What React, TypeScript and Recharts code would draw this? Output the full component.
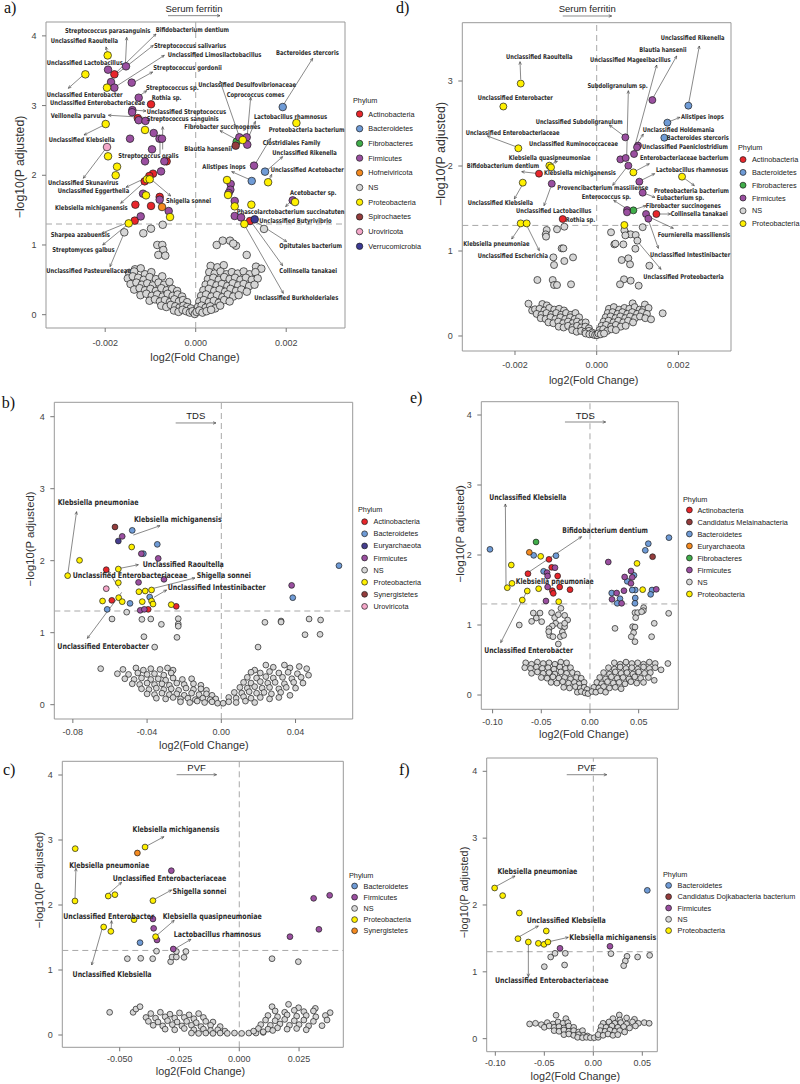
import React from 'react';
import { ScatterChart, Scatter, XAxis, YAxis, ReferenceLine, ReferenceArea, Legend, Label } from 'recharts';

const SANS = "'Liberation Sans', Arial, Helvetica, sans-serif";
const NARROW = "'Liberation Sans Narrow', 'Arial Narrow', 'DejaVu Sans Condensed', sans-serif";
const SERIF = "'Liberation Serif', 'Times New Roman', serif";

// ---------- phylum legends ----------
const PHYLA_A = [['Act', 'Actinobacteria'], ['Bac', 'Bacteroidetes'], ['Fib', 'Fibrobacteres'], ['Fir', 'Firmicutes'], ['Hof', 'Hofneiviricota'], ['NS', 'NS'], ['Pro', 'Proteobacteria'], ['Spi', 'Spirochaetes'], ['Uro', 'Uroviricota'], ['Ver', 'Verrucomicrobia']];
const PHYLA_D = [['Act', 'Actinobacteria'], ['Bac', 'Bacteroidetes'], ['Fib', 'Fibrobacteres'], ['Fir', 'Firmicutes'], ['NS', 'NS'], ['Pro', 'Proteobacteria']];
const PHYLA_B = [['Act', 'Actinobacteria'], ['Bac', 'Bacteroidetes'], ['Eur', 'Euryarchaeota'], ['Fir', 'Firmicutes'], ['NS', 'NS'], ['Pro', 'Proteobacteria'], ['Syn', 'Synergistetes'], ['Uro', 'Uroviricota']];
const PHYLA_E = [['Act', 'Actinobacteria'], ['Mel', 'Candidatus Melainabacteria'], ['Bac', 'Bacteroidetes'], ['Eur', 'Euryarchaeota'], ['Fib', 'Fibrobacteres'], ['Fir', 'Firmicutes'], ['NS', 'NS'], ['Pro', 'Proteobacteria']];
const PHYLA_C = [['Bac', 'Bacteroidetes'], ['Fir', 'Firmicutes'], ['NS', 'NS'], ['Pro', 'Proteobacteria'], ['Syn', 'Synergistetes']];
const PHYLA_F = [['Bac', 'Bacteroidetes'], ['Doj', 'Candidatus Dojkabacteria bacterium'], ['Fir', 'Firmicutes'], ['NS', 'NS'], ['Pro', 'Proteobacteria']];

// ---------- panel a (Serum ferritin), x values in units of 1e-3 ----------
const SIG_A = [
  [-1.945, 3.72, 'Pro'], [-2.438, 3.448, 'Pro'], [-1.937, 3.515, 'Fir'], [-1.797, 3.448, 'Act'], [-1.54, 3.563, 'Fir'],
  [-1.871, 3.338, 'Fir'], [-1.96, 3.257, 'Pro'], [-1.797, 3.257, 'Fir'], [-1.414, 3.329, 'Fir'], [-1.26, 3.113, 'Fir'],
  [-0.987, 3.018, 'Act'], [-1.4, 2.935, 'Fir'], [-1.405, 2.905, 'Fir'], [-1.28, 2.82, 'Act'], [-1.26, 2.79, 'Fir'],
  [-1.11, 2.78, 'Fir'], [-1.989, 2.735, 'Pro'], [-1.12, 2.65, 'Pro'], [-0.928, 2.606, 'Fir'], [-1.451, 2.525, 'Fir'],
  [-0.8, 2.525, 'Fir'], [-0.745, 2.525, 'Fir'], [-1.96, 2.405, 'Uro'], [-1.937, 2.272, 'Pro'], [-0.965, 2.372, 'Fir'],
  [-1.12, 2.2, 'Fir'], [-0.693, 2.2, 'Fir'], [-0.642, 2.2, 'Act'], [-0.766, 2.056, 'Fir'], [-1.738, 2.123, 'Pro'],
  [-1.768, 2.0, 'Pro'], [-0.943, 2.023, 'Act'], [-1.024, 1.99, 'Act'], [-1.127, 1.913, 'Act'], [-1.076, 1.942, 'Pro'],
  [-1.017, 1.942, 'Pro'], [-1.164, 1.736, 'Fir'], [-1.098, 1.712, 'Pro'], [-0.796, 1.69, 'Act'], [-0.796, 1.65, 'Fir'],
  [-1.333, 1.578, 'Act'], [-0.987, 1.56, 'Act'], [-0.744, 1.545, 'Hof'], [-0.597, 1.487, 'Fir'], [-0.567, 1.401, 'Pro'],
  [-1.215, 1.41, 'Fir'], [-1.348, 1.349, 'Act'], [-1.48, 1.31, 'Pro'],
  [1.923, 2.979, 'Bac'], [2.225, 2.75, 'Pro'], [0.964, 2.545, 'Fir'], [0.906, 2.482, 'Fib'], [0.884, 2.425, 'Spi'],
  [1.039, 2.506, 'Pro'], [1.127, 2.545, 'Fir'], [1.14, 2.439, 'Fir'], [1.289, 2.138, 'Fir'], [1.532, 2.052, 'Bac'],
  [1.6, 1.9, 'Pro'], [1.238, 1.918, 'Bac'], [0.692, 1.932, 'Pro'], [0.773, 1.875, 'Fir'], [0.766, 1.793, 'Fir'],
  [0.729, 1.746, 'Fir'], [0.715, 1.717, 'Pro'], [0.862, 1.631, 'Fir'], [0.862, 1.554, 'Pro'], [0.862, 1.416, 'Fir'],
  [1.002, 1.396, 'Fir'], [1.2, 1.344, 'Act'], [1.304, 1.368, 'Ver'], [1.075, 1.301, 'Pro'], [1.23, 1.578, 'Pro'],
  [2.144, 1.64, 'Fir'], [2.195, 1.616, 'Pro'],
];
const NS_A = [
  [-0.729, 1.29], [-0.988, 1.234], [-1.158, 1.168], [-1.578, 1.182], [-0.849, 1.0], [-0.738, 1.0], [-0.716, 0.928], [-0.826, 0.857],
  [-0.672, 0.847], [-1.341, 0.651], [-1.215, 0.665], [0.464, 1.0], [0.597, 1.062], [0.758, 1.062], [0.891, 0.99], [0.83, 1.02],
  [1.127, 0.857], [1.509, 1.23], [1.333, 0.689], [1.288, 0.545],
  [-1.47, 0.6], [-1.36, 0.62], [-1.12, 0.58], [-0.98, 0.61],
  [-1.5, 0.52], [-1.39, 0.55], [-1.27, 0.53], [-1.15, 0.5], [-1.02, 0.54], [-0.88, 0.51], [-0.74, 0.55],
  [-1.44, 0.44], [-1.31, 0.46], [-1.19, 0.43], [-1.07, 0.45], [-0.95, 0.42], [-0.82, 0.46], [-0.7, 0.43], [-0.58, 0.47],
  [-1.36, 0.36], [-1.24, 0.38], [-1.12, 0.35], [-1.0, 0.37], [-0.88, 0.34], [-0.76, 0.38], [-0.64, 0.35], [-0.52, 0.37], [-0.41, 0.34],
  [-1.22, 0.28], [-1.09, 0.3], [-0.97, 0.27], [-0.85, 0.29], [-0.73, 0.26], [-0.62, 0.3], [-0.51, 0.27], [-0.4, 0.29], [-0.3, 0.26],
  [-1.02, 0.2], [-0.9, 0.22], [-0.79, 0.19], [-0.68, 0.21], [-0.57, 0.18], [-0.47, 0.22], [-0.37, 0.19], [-0.28, 0.21], [-0.19, 0.18],
  [-0.76, 0.13], [-0.65, 0.11], [-0.55, 0.14], [-0.45, 0.12], [-0.36, 0.1], [-0.27, 0.13], [-0.19, 0.11], [-0.11, 0.09],
  [-0.48, 0.06], [-0.38, 0.04], [-0.29, 0.07], [-0.21, 0.05], [-0.13, 0.03], [-0.07, 0.05], [-0.02, 0.01],
  [0.33, 0.7], [0.48, 0.68], [0.62, 0.71], [1.45, 0.66],
  [0.3, 0.61], [0.42, 0.59], [0.55, 0.62], [0.68, 0.58], [0.8, 0.61], [0.93, 0.59], [1.06, 0.62], [1.19, 0.58], [1.32, 0.61],
  [0.27, 0.51], [0.39, 0.53], [0.51, 0.5], [0.63, 0.54], [0.75, 0.51], [0.87, 0.53], [0.99, 0.5], [1.11, 0.53], [1.24, 0.5], [1.37, 0.52],
  [0.22, 0.43], [0.34, 0.45], [0.46, 0.42], [0.58, 0.44], [0.7, 0.41], [0.82, 0.45], [0.94, 0.42], [1.06, 0.44], [1.18, 0.41], [1.3, 0.43],
  [0.17, 0.35], [0.29, 0.37], [0.41, 0.34], [0.53, 0.36], [0.65, 0.33], [0.77, 0.37], [0.89, 0.34], [1.01, 0.36], [1.13, 0.33],
  [0.12, 0.27], [0.23, 0.29], [0.35, 0.26], [0.47, 0.28], [0.59, 0.25], [0.71, 0.29], [0.83, 0.26], [0.95, 0.28],
  [0.08, 0.19], [0.18, 0.21], [0.29, 0.18], [0.4, 0.2], [0.51, 0.17], [0.63, 0.21], [0.75, 0.19],
  [0.05, 0.11], [0.13, 0.13], [0.22, 0.1], [0.32, 0.12], [0.43, 0.09], [0.54, 0.13],
  [0.02, 0.04], [0.08, 0.06], [0.15, 0.03], [0.24, 0.05], [0.34, 0.07],
];
const LABELS_A = [
  ['Streptococcus parasanguinis', -2.888, 4.075], ['Bifidobacterium dentium', -0.885, 4.094], ['Unclassified Raoultella', -3.204, 3.931],
  ['Streptococcus salivarius', -0.922, 3.865], ['Unclassified Limosilactobacillus', -0.619, 3.735], ['Unclassified Lactobacillus', -3.293, 3.616],
  ['Streptococcus gordonii', -0.936, 3.545], ['Unclassified Enterobacter', -3.293, 3.157], ['Streptococcus sp.', -1.098, 3.262],
  ['Unclassified Enterobacteriaceae', -3.219, 3.047], ['Rothia sp.', -0.973, 3.114], ['Unclassified Streptococcus', -1.084, 2.923],
  ['Veillonella parvula', -3.204, 2.86], ['Streptococcus sanguinis', -1.084, 2.822], ['Unclassified Klebsiella', -3.249, 2.521],
  ['Streptococcus oralis', -1.71, 2.291], ['Unclassified Skunavirus', -3.263, 1.904], ['Unclassified Eggerthella', -3.05, 1.779],
  ['Shigella sonnei', -0.656, 1.636], ['Klebsiella michiganensis', -3.109, 1.545], ['Sharpea azabuensis', -3.204, 1.153],
  ['Streptomyces galbus', -3.168, 0.938], ['Unclassified Pasteurellaceae', -3.3, 0.632], ['Bacteroides stercoris', 1.775, 3.764],
  ['Unclassified Desulfovibrionaceae', 0.058, 3.31], ['Coprococcus comes', 0.684, 3.161], ['Lactobacillus rhamnosus', 1.288, 2.85],
  ['Proteobacteria bacterium', 1.613, 2.659], ['Fibrobacter succinogenes', -0.251, 2.707], ['Blautia hansenii', -0.251, 2.387],
  ['Clostridiales Family', 1.48, 2.468], ['Unclassified Rikenella', 1.694, 2.324], ['Alistipes inops', 0.147, 2.124],
  ['Unclassified Acetobacter', 1.656, 2.085], ['Acetobacter sp.', 2.084, 1.755], ['Phascolarctobacterium succinatuten', 0.905, 1.482],
  ['Unclassified Butyrivibrio', 1.406, 1.348], ['Opitutales bacterium', 1.848, 0.989], ['Collinsella tanakaei', 1.848, 0.636],
  ['Unclassified Burkholderiales', 1.295, 0.244],
];
const ARROWS_A = [
  [-1.555, 3.568, -1.525, 3.979], [-1.798, 3.448, -0.877, 4.027], [-1.783, 3.434, -0.936, 3.864], [-1.724, 3.29, -0.693, 3.721],
  [-1.378, 3.329, -0.951, 3.482], [-1.952, 3.76, -1.982, 3.842], [-2.483, 3.439, -2.815, 3.248], [-1.246, 3.137, -1.083, 3.214],
  [-1.378, 2.936, -1.098, 2.922], [-1.157, 2.832, -1.93, 2.861], [-0.789, 2.303, -0.789, 2.553], [-0.73, 2.37, -0.73, 2.697],
  [-2.026, 2.721, -2.468, 2.578], [-1.982, 2.387, -2.483, 1.957], [-1.12, 1.957, -1.54, 1.828], [-1.083, 1.933, -1.658, 1.598],
  [-0.995, 1.947, -0.553, 1.703], [-1.503, 1.321, -2.078, 1.168], [-1.489, 1.302, -2.055, 1.0], [-1.584, 1.167, -1.894, 0.689],
  [1.937, 3.01, 2.585, 3.678], [0.964, 2.554, 0.537, 3.353], [1.141, 2.579, 1.215, 3.118], [1.141, 2.506, 1.32, 2.774],
  [0.92, 2.506, 0.537, 2.64], [1.31, 2.157, 1.656, 2.53], [1.568, 2.066, 1.922, 2.267], [1.613, 1.918, 1.679, 2.013],
  [1.215, 1.932, 0.795, 2.052], [2.128, 1.646, 1.988, 1.55], [1.289, 1.349, 2.01, 1.048], [1.237, 1.32, 1.922, 0.703],
  [1.09, 1.272, 1.937, 0.306],
];

// ---------- panel d (Serum ferritin), x values in units of 1e-3 ----------
const SIG_D = [
  [-1.86, 2.97, 'Pro'], [-2.285, 2.7, 'Pro'], [-1.918, 2.208, 'Pro'], [-1.159, 2.004, 'Pro'], [-1.118, 1.984, 'Pro'],
  [-1.412, 1.91, 'Act'], [-1.81, 1.804, 'Pro'], [-1.1, 1.792, 'Fir'], [-0.832, 1.376, 'Act'], [-1.86, 1.325, 'Pro'],
  [-1.714, 1.325, 'Pro'],
  [1.363, 2.776, 'Fir'], [2.244, 2.71, 'Bac'], [1.73, 2.51, 'Bac'], [1.656, 2.333, 'Bac'], [0.702, 2.337, 'Fir'],
  [1.012, 2.24, 'Fir'], [0.987, 2.22, 'Fir'], [0.914, 2.141, 'Fir'], [0.579, 2.078, 'Fir'], [0.71, 2.094, 'Fir'],
  [0.775, 2.004, 'Fir'], [0.898, 1.925, 'Pro'], [2.089, 1.875, 'Pro'], [1.044, 1.816, 'Fir'], [1.126, 1.686, 'Fir'],
  [0.743, 1.482, 'Fir'], [0.743, 1.455, 'Fir'], [0.898, 1.478, 'Fib'], [1.208, 1.435, 'Fir'], [1.265, 1.38, 'Fir'],
  [1.461, 1.435, 'Act'], [0.677, 1.306, 'Pro'],
];
const NS_D = [
  [-1.224, 1.247], [-1.248, 1.196], [-1.24, 1.169], [-0.792, 1.286], [-0.971, 1.255], [-0.857, 1.031], [-0.816, 1.031], [-1.061, 0.925],
  [-0.579, 0.925], [-0.792, 0.882], [-1.044, 0.835], [-1.452, 0.659], [-1.077, 0.659], [-1.044, 0.6], [-0.971, 0.6], [-0.628, 0.608],
  [0.351, 1.22], [0.432, 1.078], [0.653, 1.078], [0.734, 1.196], [0.832, 1.196], [0.955, 1.188], [1.126, 1.28], [0.996, 1.122],
  [0.677, 1.243], [0.702, 1.184], [0.947, 1.027], [0.457, 1.086], [0.612, 0.894], [0.775, 0.914], [0.816, 0.843], [1.289, 0.827],
  [0.669, 0.667], [0.571, 0.608], [0.832, 0.651], [1.028, 0.592],
  [-1.67, 0.38], [-1.33, 0.376], [-1.22, 0.36],
  [-1.58, 0.3], [-1.51, 0.314], [-1.4, 0.32], [-1.28, 0.3], [-1.16, 0.33], [-1.04, 0.31], [-0.92, 0.32], [-0.8, 0.3],
  [-1.47, 0.26], [-1.35, 0.25], [-1.23, 0.27], [-1.11, 0.25], [-0.99, 0.27], [-0.87, 0.25], [-0.75, 0.27], [-0.63, 0.25], [-0.52, 0.27],
  [-1.37, 0.21], [-1.25, 0.2], [-1.13, 0.22], [-1.01, 0.2], [-0.89, 0.22], [-0.77, 0.2], [-0.65, 0.22], [-0.54, 0.2], [-0.43, 0.22],
  [-1.18, 0.16], [-1.06, 0.15], [-0.94, 0.17], [-0.82, 0.15], [-0.7, 0.17], [-0.59, 0.15], [-0.48, 0.17], [-0.37, 0.15], [-0.27, 0.16],
  [-0.93, 0.11], [-0.81, 0.1], [-0.7, 0.12], [-0.59, 0.1], [-0.48, 0.12], [-0.38, 0.1], [-0.28, 0.11], [-0.19, 0.09],
  [-0.6, 0.07], [-0.49, 0.05], [-0.38, 0.06], [-0.28, 0.05], [-0.19, 0.06], [-0.11, 0.04],
  [-0.27, 0.03], [-0.18, 0.02], [-0.1, 0.02], [-0.04, 0.01], [0.01, 0.01],
  [0.88, 0.384], [1.18, 0.37],
  [0.3, 0.32], [0.42, 0.34], [0.55, 0.31], [0.68, 0.33], [0.8, 0.32], [0.93, 0.34], [1.05, 0.31], [1.14, 0.306], [1.27, 0.33],
  [0.27, 0.27], [0.39, 0.28], [0.51, 0.26], [0.63, 0.28], [0.75, 0.26], [0.87, 0.28], [0.99, 0.26], [1.11, 0.28], [1.23, 0.26], [1.616, 0.267],
  [0.22, 0.22], [0.34, 0.23], [0.46, 0.21], [0.58, 0.23], [0.7, 0.21], [0.82, 0.23], [0.94, 0.21], [1.06, 0.23], [1.19, 0.21],
  [0.17, 0.17], [0.29, 0.18], [0.41, 0.16], [0.53, 0.18], [0.65, 0.16], [0.77, 0.18], [0.89, 0.16], [1.33, 0.196],
  [0.12, 0.12], [0.23, 0.13], [0.35, 0.11], [0.47, 0.13], [0.59, 0.11], [0.71, 0.12],
  [0.07, 0.07], [0.16, 0.08], [0.26, 0.06], [0.36, 0.08], [0.47, 0.07],
  [0.04, 0.03], [0.1, 0.02], [0.18, 0.03],
];
const LABELS_D = [
  ['Unclassified Rikenella', 1.567, 3.514], ['Blautia hansenii', 1.044, 3.376], ['Unclassified Raoultella', -2.219, 3.294],
  ['Unclassified Mageeibacillus', -0.163, 3.259], ['Subdoligranulum sp.', -0.228, 2.945], ['Unclassified Enterobacter', -2.913, 2.808],
  ['Alistipes inops', 2.064, 2.588], ['Unclassified Subdoligranulum', -1.493, 2.525], ['Unclassified Holdemania', 1.126, 2.431],
  ['Unclassified Enterobacteriaceae', -3.207, 2.4], ['Bacteroides stercoris', 1.714, 2.333], ['Unclassified Ruminococcaceae', -1.656, 2.263],
  ['Unclassified Paeniclostridium', 1.11, 2.231], ['Klebsiella quasipneumoniae', -2.154, 2.098], ['Enterobacteriaceae bacterium', 1.061, 2.098],
  ['Bifidobacterium dentium', -3.182, 2.004], ['Lactobacillus rhamnosus', 1.452, 1.957], ['Klebsiella michiganensis', -1.289, 1.922],
  ['Provencibacterium massiliense', -0.963, 1.749], ['Proteobacteria bacterium', 1.404, 1.718], ['Enterococcus sp.', -0.367, 1.647],
  ['Eubacterium sp.', 1.469, 1.631], ['Unclassified Klebsiella', -3.158, 1.576], ['Fibrobacter succinogenes', 1.2, 1.533],
  ['Unclassified Lactobacillus', -1.975, 1.475], ['Collinsella tanakaei', 1.811, 1.439], ['Rothia sp.', -0.759, 1.369],
  ['Fournierella massiliensis', 1.493, 1.196], ['Klebsiella pneumoniae', -3.264, 1.094], ['Unclassified Intestinibacter', 1.306, 0.957],
  ['Unclassified Escherichia', -2.913, 0.949], ['Unclassified Proteobacteria', 1.142, 0.706],
];
const ARROWS_D = [
  [-1.86, 3.02, -1.877, 3.227], [-1.975, 2.227, -2.676, 2.353], [-1.077, 2.031, -0.963, 2.055], [-1.485, 1.914, -1.836, 1.933],
  [-1.836, 1.765, -2.016, 1.612], [-1.126, 1.749, -1.289, 1.533], [-1.877, 1.286, -2.081, 1.141], [-1.697, 1.286, -1.404, 1.004],
  [0.734, 2.11, 0.775, 2.886], [0.669, 2.353, 0.31, 2.482], [0.947, 2.259, 1.469, 3.188], [1.387, 2.808, 1.958, 3.294],
  [2.252, 2.737, 2.513, 3.412], [1.779, 2.522, 2.04, 2.573], [0.996, 2.267, 1.142, 2.376], [0.759, 2.0, 0.392, 1.773],
  [0.906, 1.929, 1.289, 2.027], [1.044, 1.82, 1.42, 1.91], [2.089, 1.875, 2.391, 1.769], [1.126, 1.686, 1.428, 1.631],
  [0.759, 1.49, 0.416, 1.596], [0.938, 1.49, 1.208, 1.533], [1.51, 1.435, 1.811, 1.435], [1.265, 1.404, 1.877, 1.267],
  [1.265, 1.365, 1.51, 1.031], [0.694, 1.286, 1.575, 0.784],
];

// ---------- panel b (TDS) ----------
const SIG_B = [
  [-0.0573, 2.468, 'Syn'], [-0.048, 2.421, 'Bac'], [-0.0534, 2.338, 'Fir'], [-0.0555, 2.273, 'Eur'], [-0.0483, 2.19, 'Pro'],
  [-0.0345, 2.227, 'Bac'], [-0.0431, 2.097, 'Fir'], [-0.042, 2.097, 'Bac'], [-0.034, 2.032, 'Fir'], [-0.0764, 2.005, 'Pro'],
  [-0.062, 1.875, 'Act'], [-0.0555, 1.884, 'Pro'], [-0.0828, 1.792, 'Pro'], [-0.0446, 1.699, 'Fir'], [-0.0555, 1.694, 'Pro'],
  [-0.0309, 1.741, 'Fir'], [-0.062, 1.611, 'Uro'], [-0.0444, 1.569, 'Pro'], [-0.041, 1.579, 'Pro'], [-0.0376, 1.593, 'Pro'],
  [-0.0386, 1.495, 'Bac'], [-0.0553, 1.486, 'Pro'], [-0.064, 1.44, 'Pro'], [-0.059, 1.449, 'Act'], [-0.0534, 1.431, 'Pro'],
  [-0.0492, 1.407, 'Bac'], [-0.0426, 1.431, 'Pro'], [-0.0376, 1.44, 'Pro'], [-0.0368, 1.398, 'Pro'], [-0.0615, 1.324, 'Bac'],
  [-0.0437, 1.31, 'Fir'], [-0.0415, 1.324, 'Fir'], [-0.0394, 1.324, 'Act'], [-0.027, 1.389, 'Pro'], [-0.0243, 1.366, 'Act'],
  [0.0634, 1.931, 'Bac'], [0.0379, 1.657, 'Fir'], [0.0385, 1.486, 'Bac'],
];
const NS_B = [
  [-0.0589, 1.19], [-0.051, 1.285], [-0.0428, 1.185], [-0.038, 1.19], [-0.0323, 1.116], [-0.0232, 1.194], [-0.0232, 1.12], [-0.0232, 1.09],
  [-0.0417, 0.944], [-0.0239, 0.935], [-0.0359, 0.8], [0.0235, 1.144], [0.0322, 1.162], [0.0322, 1.148], [0.0473, 1.19], [0.0535, 1.176],
  [0.0451, 0.972], [0.0532, 0.977], [0.0198, 0.8],
  [-0.065, 0.5], [-0.053, 0.49], [-0.046, 0.51], [-0.042, 0.48], [-0.038, 0.5], [-0.033, 0.49], [-0.029, 0.51], [-0.026, 0.48],
  [-0.056, 0.43], [-0.05, 0.42], [-0.045, 0.44], [-0.04, 0.42], [-0.036, 0.43], [-0.031, 0.41], [-0.027, 0.44],
  [-0.052, 0.36], [-0.047, 0.35], [-0.043, 0.37], [-0.038, 0.35], [-0.034, 0.36], [-0.03, 0.34], [-0.026, 0.37], [-0.021, 0.35], [-0.016, 0.36],
  [-0.048, 0.29], [-0.044, 0.28], [-0.04, 0.3], [-0.036, 0.28], [-0.032, 0.29], [-0.028, 0.27], [-0.024, 0.3], [-0.02, 0.28], [-0.015, 0.29], [-0.011, 0.27],
  [-0.043, 0.22], [-0.039, 0.21], [-0.035, 0.23], [-0.031, 0.21], [-0.027, 0.22], [-0.023, 0.2], [-0.019, 0.23], [-0.015, 0.21], [-0.011, 0.22], [-0.008, 0.2],
  [-0.04, 0.15], [-0.036, 0.14], [-0.032, 0.16], [-0.028, 0.14], [-0.024, 0.15], [-0.02, 0.13], [-0.016, 0.16], [-0.012, 0.14], [-0.008, 0.15], [-0.005, 0.13],
  [-0.035, 0.09], [-0.03, 0.08], [-0.026, 0.1], [-0.022, 0.08], [-0.018, 0.09], [-0.014, 0.07], [-0.01, 0.09], [-0.006, 0.07], [-0.003, 0.08],
  [-0.022, 0.04], [-0.017, 0.03], [-0.013, 0.05], [-0.009, 0.03], [-0.005, 0.04], [-0.002, 0.02], [0.001, 0.02],
  [0.018, 0.48], [0.024, 0.55], [0.028, 0.52], [0.034, 0.55], [0.037, 0.51], [0.042, 0.53], [0.046, 0.5],
  [0.016, 0.45], [0.021, 0.44], [0.026, 0.46], [0.031, 0.44], [0.036, 0.45], [0.041, 0.43], [0.047, 0.41],
  [0.014, 0.38], [0.019, 0.37], [0.024, 0.39], [0.028, 0.37], [0.033, 0.38], [0.038, 0.36], [0.043, 0.38],
  [0.012, 0.31], [0.016, 0.3], [0.021, 0.32], [0.025, 0.3], [0.029, 0.31], [0.034, 0.29], [0.039, 0.31], [0.044, 0.3],
  [0.01, 0.24], [0.014, 0.23], [0.018, 0.25], [0.022, 0.23], [0.026, 0.24], [0.031, 0.22], [0.035, 0.24], [0.04, 0.23],
  [0.007, 0.17], [0.011, 0.16], [0.015, 0.18], [0.019, 0.16], [0.023, 0.17], [0.027, 0.15], [0.032, 0.17], [0.037, 0.13],
  [0.004, 0.1], [0.008, 0.09], [0.012, 0.11], [0.016, 0.09], [0.021, 0.1], [0.026, 0.08], [0.031, 0.1],
  [0.004, 0.04], [0.008, 0.03], [0.013, 0.05], [0.018, 0.03],
];
const LABELS_B = [
  ['Klebsiella pneumoniae', -0.0882, 2.815], ['Klebsiella michiganensis', -0.0471, 2.579], ['Unclassified Raoultella', -0.0424, 1.954],
  ['Unclassified Enterobacteriaceae', -0.0801, 1.801], ['Shigella sonnei', -0.0133, 1.801], ['Unclassified Intestinibacter', -0.0289, 1.635],
  ['Unclassified Enterobacter', -0.0884, 0.815],
];
const ARROWS_B = [
  [-0.0828, 1.801, -0.078, 2.681], [-0.0474, 2.356, -0.033, 2.486], [-0.0546, 1.894, -0.0447, 1.944], [-0.0551, 1.616, -0.0609, 1.856],
  [-0.0366, 1.616, -0.0142, 1.76], [-0.0363, 1.491, -0.0295, 1.593], [-0.0537, 1.56, -0.0722, 0.921],
];

// ---------- panel e (TDS) ----------
const SIG_E = [
  [-0.1027, 2.081, 'Bac'], [-0.0554, 2.186, 'Fib'], [-0.0623, 2.038, 'Eur'], [-0.0578, 1.995, 'Bac'], [-0.0506, 1.981, 'Pro'],
  [-0.0349, 1.99, 'Bac'], [-0.0421, 1.938, 'Act'], [-0.0808, 1.857, 'Pro'], [-0.0393, 1.824, 'Act'], [-0.0359, 1.819, 'Fir'],
  [-0.0637, 1.733, 'Act'], [-0.0476, 1.767, 'Bac'], [-0.0441, 1.748, 'Fir'], [-0.0435, 1.7, 'Fir'], [-0.0332, 1.7, 'Act'],
  [-0.0849, 1.533, 'Pro'], [-0.0801, 1.595, 'Pro'], [-0.0644, 1.486, 'Pro'], [-0.0527, 1.519, 'Pro'], [-0.0435, 1.543, 'Fir'],
  [-0.0387, 1.49, 'Act'], [-0.0377, 1.452, 'Act'], [-0.0311, 1.543, 'Act'], [-0.0205, 1.505, 'Act'], [-0.0695, 1.357, 'Pro'],
  [-0.0452, 1.343, 'Fir'], [-0.0321, 1.333, 'Pro'],
  [0.0811, 2.248, 'Bac'], [0.0599, 2.162, 'Bac'], [0.0568, 2.067, 'Bac'], [0.0643, 1.976, 'Mel'], [0.0188, 1.9, 'Fir'],
  [0.0483, 1.88, 'Pro'], [0.0421, 1.771, 'Fir'], [0.0356, 1.686, 'Fir'], [0.0434, 1.681, 'Fir'], [0.0383, 1.624, 'Bac'],
  [0.0452, 1.71, 'Bac'], [0.0421, 1.595, 'Fir'], [0.0541, 1.505, 'Pro'], [0.0681, 1.51, 'Fir'], [0.0637, 1.5, 'Bac'],
  [0.0623, 1.438, 'Bac'], [0.0349, 1.49, 'Fir'], [0.0465, 1.5, 'Bac'], [0.0434, 1.5, 'Bac'], [0.0223, 1.457, 'Bac'],
  [0.0274, 1.457, 'Fir'], [0.0226, 1.367, 'Fir'], [0.0308, 1.376, 'Bac'], [0.0325, 1.31, 'Fir'], [0.028, 1.31, 'Bac'],
  [0.0465, 1.386, 'Bac'], [0.0462, 1.31, 'Bac'],
];
const NS_E = [
  [-0.0582, 1.171], [-0.0513, 1.171], [-0.0551, 1.1], [-0.0599, 1.052], [-0.0496, 1.048], [-0.0726, 1.0], [-0.0394, 1.176], [-0.0363, 1.105],
  [-0.0352, 1.024], [-0.0387, 0.986], [-0.0421, 0.948], [-0.0414, 0.852], [-0.038, 0.833], [-0.0305, 0.99], [-0.026, 0.976], [-0.026, 1.138],
  [-0.0229, 1.071], [-0.0284, 0.9], [-0.0305, 0.833], [-0.027, 0.852], [-0.0325, 0.729], [-0.0424, 0.905], [-0.0325, 1.148], [-0.0298, 1.238],
  [-0.026, 1.024], [0.0462, 1.176], [0.0489, 1.176], [0.0551, 1.248], [0.0548, 1.205], [0.0469, 1.105], [0.0438, 0.976], [0.0462, 0.971],
  [0.0448, 0.89], [0.0462, 0.762], [0.0424, 0.833], [0.066, 1.024], [0.0633, 0.833], [0.0808, 1.167], [0.0257, 0.952], [0.053, 1.19],
  [-0.066, 0.46], [-0.06, 0.44], [-0.054, 0.47], [-0.048, 0.45], [-0.042, 0.46], [-0.036, 0.44], [-0.03, 0.47], [-0.024, 0.46],
  [-0.067, 0.39], [-0.061, 0.38], [-0.055, 0.4], [-0.049, 0.38], [-0.043, 0.39], [-0.037, 0.37], [-0.031, 0.4], [-0.025, 0.38], [-0.02, 0.39],
  [-0.06, 0.31], [-0.054, 0.33], [-0.048, 0.31], [-0.042, 0.32], [-0.036, 0.3], [-0.03, 0.33], [-0.024, 0.31], [-0.018, 0.32], [-0.013, 0.3],
  [-0.05, 0.25], [-0.044, 0.24], [-0.038, 0.26], [-0.032, 0.24], [-0.026, 0.25], [-0.02, 0.23], [-0.014, 0.25], [-0.009, 0.24],
  [-0.04, 0.18], [-0.034, 0.17], [-0.028, 0.19], [-0.022, 0.17], [-0.016, 0.18], [-0.011, 0.16], [-0.006, 0.18],
  [-0.027, 0.11], [-0.021, 0.1], [-0.015, 0.12], [-0.01, 0.1], [-0.006, 0.11], [-0.003, 0.08],
  [-0.013, 0.04], [-0.009, 0.05], [-0.005, 0.03], [-0.002, 0.02],
  [0.025, 0.46], [0.031, 0.44], [0.037, 0.47], [0.043, 0.45], [0.049, 0.46], [0.055, 0.44], [0.061, 0.47], [0.067, 0.45], [0.08, 0.45],
  [0.019, 0.39], [0.025, 0.37], [0.031, 0.4], [0.037, 0.38], [0.043, 0.39], [0.049, 0.37], [0.055, 0.4], [0.061, 0.38], [0.067, 0.39], [0.073, 0.36],
  [0.014, 0.32], [0.02, 0.3], [0.026, 0.33], [0.032, 0.31], [0.038, 0.32], [0.044, 0.3], [0.05, 0.33], [0.056, 0.31], [0.062, 0.32],
  [0.01, 0.25], [0.016, 0.23], [0.022, 0.26], [0.028, 0.24], [0.034, 0.25], [0.04, 0.23], [0.046, 0.26], [0.052, 0.24], [0.06, 0.25], [0.066, 0.21],
  [0.007, 0.18], [0.012, 0.16], [0.018, 0.19], [0.024, 0.17], [0.03, 0.18], [0.036, 0.16], [0.042, 0.19], [0.048, 0.17], [0.055, 0.18],
  [0.004, 0.11], [0.009, 0.1], [0.014, 0.12], [0.02, 0.1], [0.026, 0.11], [0.032, 0.09],
  [0.002, 0.05], [0.006, 0.04], [0.011, 0.06], [0.016, 0.04],
];
const LABELS_E = [
  ['Unclassified Klebsiella', -0.1034, 2.824], ['Bifidobacterium dentium', -0.0284, 2.357], ['Klebsiella pneumoniae', -0.0763, 1.624],
  ['Unclassified Enterobacter', -0.1085, 0.643],
];
const ARROWS_E = [[-0.0862, 1.548, -0.0869, 2.729], [-0.0637, 1.748, -0.0086, 2.262], [-0.065, 1.476, -0.0917, 0.748]];

// ---------- panel c (PVF) ----------
const SIG_C = [
  [-0.0686, 2.867, 'Pro'], [-0.0426, 2.8, 'Syn'], [-0.0394, 2.892, 'Pro'], [-0.0284, 2.528, 'Fir'], [-0.0687, 2.062, 'Pro'],
  [-0.0548, 2.138, 'Pro'], [-0.052, 2.159, 'Pro'], [-0.0361, 2.067, 'Pro'], [-0.044, 1.774, 'Pro'], [-0.0361, 1.785, 'Fir'],
  [-0.0567, 1.662, 'Pro'], [-0.0537, 1.595, 'Pro'], [-0.0358, 1.641, 'Fir'], [-0.035, 1.513, 'Pro'], [-0.0344, 1.462, 'Fir'],
  [-0.0415, 1.421, 'Bac'], [-0.0276, 1.323, 'Fir'], [0.0311, 2.103, 'Fir'], [0.0378, 2.149, 'Fir'], [0.0333, 1.626, 'Fir'],
  [0.0212, 1.513, 'Fir'],
];
const NS_C = [
  [-0.0468, 1.174], [-0.0412, 1.18], [-0.0362, 1.174], [-0.0346, 1.29], [-0.0287, 1.128], [-0.0281, 1.2], [-0.0263, 1.2], [-0.0263, 1.285],
  [-0.0231, 1.195], [-0.0223, 1.285], [0.0137, 1.174], [0.0247, 1.128],
  [-0.0542, 0.349], [-0.0444, 0.349], [-0.0432, 0.4], [-0.0415, 0.436],
  [-0.037, 0.33], [-0.033, 0.35], [-0.029, 0.32], [-0.025, 0.34], [-0.021, 0.31], [-0.017, 0.33],
  [-0.039, 0.27], [-0.035, 0.26], [-0.031, 0.28], [-0.027, 0.26], [-0.023, 0.27], [-0.019, 0.25], [-0.015, 0.27],
  [-0.038, 0.21], [-0.034, 0.2], [-0.03, 0.22], [-0.026, 0.2], [-0.022, 0.21], [-0.018, 0.19], [-0.014, 0.21], [-0.011, 0.2],
  [-0.036, 0.15], [-0.032, 0.14], [-0.028, 0.16], [-0.024, 0.14], [-0.02, 0.15], [-0.016, 0.13], [-0.012, 0.15], [-0.008, 0.13],
  [-0.031, 0.09], [-0.027, 0.08], [-0.023, 0.1], [-0.019, 0.08], [-0.015, 0.09], [-0.012, 0.07], [-0.009, 0.08], [-0.006, 0.06],
  [-0.02, 0.03], [-0.017, 0.025], [-0.014, 0.03], [-0.011, 0.025], [-0.008, 0.03], [-0.005, 0.025], [-0.002, 0.03], [0.001, 0.025],
  [0.004, 0.03], [0.007, 0.03], [0.01, 0.04],
  [0.0137, 0.436], [0.0206, 0.472], [0.0248, 0.42], [0.0318, 0.41],
  [0.015, 0.37], [0.019, 0.35], [0.023, 0.38], [0.027, 0.36], [0.031, 0.37], [0.038, 0.344],
  [0.012, 0.3], [0.016, 0.28], [0.02, 0.31], [0.024, 0.29], [0.028, 0.3], [0.032, 0.28], [0.036, 0.3],
  [0.011, 0.23], [0.015, 0.22], [0.019, 0.24], [0.023, 0.22], [0.027, 0.23], [0.031, 0.21], [0.0367, 0.231],
  [0.009, 0.16], [0.013, 0.15], [0.017, 0.17], [0.021, 0.15], [0.025, 0.16], [0.029, 0.14], [0.0346, 0.144],
  [0.008, 0.1], [0.012, 0.09], [0.016, 0.11], [0.02, 0.09], [0.024, 0.1], [0.028, 0.08],
  [0.006, 0.06], [0.01, 0.05], [0.014, 0.07],
];
const LABELS_C = [
  ['Klebsiella michiganensis', -0.0446, 3.169], ['Klebsiella pneumoniae', -0.0711, 2.615], ['Unclassified Enterobacteriaceae', -0.0529, 2.41],
  ['Shigella sonnei', -0.0279, 2.21], ['Unclassified Enterobacter', -0.0736, 1.821], ['Klebsiella quasipneumoniae', -0.032, 1.821],
  ['Lactobacillus rhamnosus', -0.0274, 1.544], ['Unclassified Klebsiella', -0.0697, 0.933],
];
const ARROWS_C = [
  [-0.0387, 2.908, -0.0315, 3.051], [-0.0687, 2.077, -0.0683, 2.564], [-0.0548, 2.169, -0.0492, 2.349], [-0.0355, 2.087, -0.0283, 2.231],
  [-0.0536, 1.6, -0.0534, 1.759], [-0.0348, 1.523, -0.0272, 1.764], [-0.0273, 1.318, -0.0202, 1.472], [-0.0571, 1.667, -0.0617, 1.077],
];

// ---------- panel f (PVF) ----------
const SIG_F = [
  [-0.1007, 2.254, 'Pro'], [-0.0925, 2.14, 'Pro'], [-0.0755, 1.88, 'Pro'], [-0.048, 1.611, 'Pro'], [-0.0769, 1.496, 'Pro'],
  [-0.0663, 1.446, 'Pro'], [-0.0561, 1.426, 'Pro'], [-0.0503, 1.411, 'Pro'], [-0.0463, 1.446, 'Pro'], [-0.034, 1.352, 'Fir'],
  [0.017, 1.382, 'Fir'], [0.0551, 2.219, 'Bac'],
];
const NS_F = [
  [-0.0435, 1.222], [-0.0391, 1.277], [-0.0286, 1.277], [-0.05, 1.077], [-0.0293, 1.102], [0.018, 1.272], [0.0344, 1.232], [0.0327, 1.162],
  [0.031, 1.092], [0.0452, 1.222], [0.0575, 1.247],
  [-0.038, 0.35], [-0.028, 0.3], [0.0265, 0.354],
  [-0.065, 0.22], [-0.059, 0.23], [-0.053, 0.21], [-0.047, 0.24], [-0.041, 0.22], [-0.036, 0.25], [-0.031, 0.23], [-0.026, 0.24],
  [-0.05, 0.17], [-0.045, 0.19], [-0.04, 0.17], [-0.035, 0.18], [-0.03, 0.16], [-0.025, 0.19], [-0.02, 0.17],
  [-0.04, 0.12], [-0.035, 0.11], [-0.03, 0.13], [-0.025, 0.11], [-0.02, 0.12], [-0.015, 0.1], [-0.011, 0.12],
  [-0.03, 0.06], [-0.025, 0.07], [-0.02, 0.05], [-0.015, 0.06], [-0.01, 0.05], [-0.006, 0.04],
  [-0.016, 0.02], [-0.011, 0.015], [-0.007, 0.02], [-0.003, 0.015], [0.001, 0.015], [0.005, 0.02],
  [0.02, 0.3], [0.027, 0.28], [0.034, 0.31], [0.042, 0.29],
  [0.01, 0.23], [0.016, 0.25], [0.022, 0.23], [0.028, 0.24], [0.034, 0.22], [0.04, 0.25], [0.046, 0.23], [0.052, 0.24], [0.057, 0.23],
  [0.008, 0.18], [0.013, 0.17], [0.019, 0.19], [0.025, 0.17], [0.031, 0.18], [0.037, 0.16], [0.043, 0.19],
  [0.007, 0.12], [0.012, 0.11], [0.017, 0.13], [0.022, 0.11], [0.027, 0.12], [0.032, 0.1],
  [0.005, 0.06], [0.01, 0.05], [0.015, 0.07], [0.02, 0.05], [0.025, 0.06],
];
const LABELS_F = [
  ['Klebsiella pneumoniae', -0.0979, 2.499], ['Unclassified Klebsiella', -0.068, 1.766], ['Klebsiella michiganensis', -0.0245, 1.521],
  ['Unclassified Enterobacteriaceae', -0.1003, 0.868],
];
const ARROWS_F = [[-0.0986, 2.284, -0.0799, 2.434], [-0.0755, 1.526, -0.0561, 1.686], [-0.0452, 1.451, -0.0255, 1.516], [-0.0663, 1.402, -0.0663, 0.928]];

// ---------- styles / layout ----------
const BASE_COLORS: Record<string, string> = {
  Act: '#E8262B', Bac: '#6F9BD6', Fib: '#40AD4A', Fir: '#9A4FA0', Hof: '#F58A1F', NS: '#D6D6D6', Pro: '#FFF000',
  Spi: '#943C3C', Uro: '#F4A7C9', Ver: '#3C3A94', Eur: '#463E8F', Syn: '#943C3C', Mel: '#943C3C', Doj: '#943C3C',
};

const PANELS = [
  {
    key: 'a', letter: 'a)', title: 'Serum ferritin', titleArrow: [-0.612, 0.537, 4.29], xUnit: 1e-3,
    xDomain: [-3.308e-3, 3.299e-3], yDomain: [-0.191, 4.199], xTicks: [-0.002, 0, 0.002], xDigits: 3, yTicks: [0, 1, 2, 3, 4],
    phyla: PHYLA_A, sig: SIG_A, ns: NS_A, labels: LABELS_A, arrows: ARROWS_A,
    L: { left: 0, top: 0, w: 440, h: 370, mt: 22, mr: 95, yw: 46, xh: 42, xtm: 8, r: 3.8, ls: 6.7, lsx: 0.87, yT: [20.3, 167, 12.2], xT: [195, 357],
      lg: [352.7, 100, 14, 14.7, 6.6, 15.3, 3.2], letterPos: [4, 0], colors: {} },
  },
  {
    key: 'd', letter: 'd)', title: 'Serum ferritin', titleArrow: [-0.832, 0.367, 3.765], xUnit: 1e-3,
    xDomain: [-3.29e-3, 3.288e-3], yDomain: [-0.1765, 3.686], xTicks: [-0.002, 0, 0.002], xDigits: 3, yTicks: [0, 1, 2, 3],
    phyla: PHYLA_D, sig: SIG_D, ns: NS_D, labels: LABELS_D, arrows: ARROWS_D,
    L: { left: 417, top: 0, w: 383, h: 390, mt: 22.7, mr: 69, yw: 45.3, xh: 39, xtm: 7, r: 3.5, ls: 6.7, lsx: 0.86, yT: [23.5, 154, 12.4], xT: [176.7, 380],
      lg: [320.7, 146.7, 12.6, 12.8, 5, 14, 3.0], letterPos: [396, 0], colors: {} },
  },
  {
    key: 'b', letter: 'b)', title: 'TDS', titleArrow: [-0.0246, -0.0029, 3.913], xUnit: 1,
    xDomain: [-0.09, 0.0708], yDomain: [-0.199, 4.2], xTicks: [-0.08, -0.04, 0, 0.04], xDigits: 2, yTicks: [0, 1, 2, 3, 4],
    phyla: PHYLA_B, sig: SIG_B, ns: NS_B, labels: LABELS_B, arrows: ARROWS_B,
    L: { left: 0, top: 380, w: 440, h: 380, mt: 22.3, mr: 87.3, yw: 54.3, xh: 41, xtm: 5.8, r: 2.9, ls: 7.9, lsx: 0.89, yT: [30, 159, 11.3], xT: [203.8, 365],
      lg: [357.7, 129.3, 12.7, 12.1, 6.6, 15.6, 2.9], letterPos: [1.7, 395.4], colors: {} },
  },
  {
    key: 'e', letter: 'e)', title: 'TDS', titleArrow: [-0.0257, 0.0161, 3.9], xUnit: 1,
    xDomain: [-0.1116, 0.0907], yDomain: [-0.204, 4.19], xTicks: [-0.1, -0.05, 0, 0.05], xDigits: 2, yTicks: [0, 1, 2, 3, 4],
    phyla: PHYLA_E, sig: SIG_E, ns: NS_E, labels: LABELS_E, arrows: ARROWS_E,
    L: { left: 420, top: 380, w: 380, h: 380, mt: 21.7, mr: 121.7, yw: 61.3, xh: 50.7, xtm: 5.2, r: 2.9, ls: 7.9, lsx: 0.86, yT: [40, 153.8, 11.6], xT: [163.8, 354.3],
      lg: [263.3, 119.3, 11, 12, 6.4, 14.4, 2.9], letterPos: [410, 390.4], colors: { Eur: '#F58A1F' } },
  },
  {
    key: 'c', letter: 'c)', title: 'PVF', titleArrow: [-0.0262, -0.0095, 4.005], xUnit: 1,
    xDomain: [-0.074, 0.0435], yDomain: [-0.189, 4.211], xTicks: [-0.05, -0.025, 0, 0.025], xDigits: 3, yTicks: [0, 1, 2, 3, 4],
    phyla: PHYLA_C, sig: SIG_C, ns: NS_C, labels: LABELS_C, arrows: ARROWS_C,
    L: { left: 0, top: 740, w: 440, h: 344, mt: 21.3, mr: 96.7, yw: 62.3, xh: 36.7, xtm: 4.5, r: 2.9, ls: 7.9, lsx: 0.88, yT: [39, 140, 11.5], xT: [200.5, 330.7],
      lg: [348.7, 135, 11, 11.2, 5.6, 14.6, 2.9], letterPos: [3, 762.4], colors: { Syn: '#F58A1F' } },
  },
  {
    key: 'f', letter: 'f)', title: 'PVF', titleArrow: [-0.0271, 0.0137, 3.949], xUnit: 1,
    xDomain: [-0.1088, 0.0653], yDomain: [-0.195, 4.199], xTicks: [-0.1, -0.05, 0, 0.05], xDigits: 2, yTicks: [0, 1, 2, 3, 4],
    phyla: PHYLA_F, sig: SIG_F, ns: NS_F, labels: LABELS_F, arrows: ARROWS_F,
    L: { left: 420, top: 740, w: 380, h: 344, mt: 18, mr: 142.7, yw: 66.7, xh: 32.3, xtm: 4.4, r: 2.9, ls: 7.9, lsx: 0.88, yT: [44, 152.5, 10.9], xT: [155.3, 336],
      lg: [242.7, 134.3, 11.4, 11.3, 5.6, 14.6, 2.9], letterPos: [399, 762.4], colors: {} },
  },
];

const ArrowShape = (props: any) => {
  const { x1, y1, x2, y2 } = props;
  if ([x1, y1, x2, y2].some((v) => typeof v !== 'number' || isNaN(v))) return null;
  const a = Math.atan2(y2 - y1, x2 - x1);
  const h = 3.2;
  const s = 0.42;
  const p1 = `${x2 - h * Math.cos(a - s)},${y2 - h * Math.sin(a - s)}`;
  const p2 = `${x2 - h * Math.cos(a + s)},${y2 - h * Math.sin(a + s)}`;
  return (
    <g>
      <line x1={x1} y1={y1} x2={x2} y2={y2} stroke="#3a3a3a" strokeWidth={0.6} />
      <polyline points={`${p1} ${x2},${y2} ${p2}`} fill="none" stroke="#3a3a3a" strokeWidth={0.6} />
    </g>
  );
};

function VolcanoPanel({ p }: { p: any }) {
  const L = p.L;
  const colors = { ...BASE_COLORS, ...L.colors };
  const u = p.xUnit;
  const nsData = p.ns.map(([x, y]: number[]) => ({ x: x * u, y }));
  const groups = p.phyla
    .filter(([c]: string[]) => c !== 'NS')
    .map(([c, name]: string[]) => ({
      c, name,
      data: p.sig.filter((s: any[]) => s[2] === c).map(([x, y]: any[]) => ({ x: x * u, y })),
    }));
  const labelData = p.labels.map(([name, x, y]: any[]) => ({ x: x * u, y, name }));
  const [xd0, xd1] = p.xDomain;
  const [yd0, yd1] = p.yDomain;
  const dot = (fill: string) => (props: any) => (
    <circle cx={props.cx} cy={props.cy} r={L.r} fill={fill} stroke="#1c1c1c" strokeWidth={0.7} />
  );
  const labelShape = (props: any) => (
    <text x={0} y={0} transform={`translate(${props.cx},${props.cy}) scale(${L.lsx},1)`} dominantBaseline="central"
      fontSize={L.ls} fontFamily={NARROW} fontWeight={700} fill="#2b2b2b">
      {props.payload.name}
    </text>
  );
  const [lx, ly, dy0, step, cxo, txo, lr] = L.lg;
  const legendContent = () => (
    <svg width={175} height={200} style={{ overflow: 'visible', display: 'block' }}>
      <text x={3} y={10} dominantBaseline="central" fontSize={7.3} fontFamily={SANS} fill="#222">Phylum</text>
      {p.phyla.map(([c, name]: string[], i: number) => {
        const cy = 10 + dy0 + i * step;
        return (
          <g key={c}>
            <circle cx={3 + cxo} cy={cy} r={lr} fill={colors[c]} stroke="#1c1c1c" strokeWidth={0.7} />
            <text x={3 + txo} y={cy} dominantBaseline="central" fontSize={7.3} fontFamily={SANS} fill="#222">{name}</text>
          </g>
        );
      })}
    </svg>
  );
  const tickStyle = { fontSize: 9, fill: '#444', fontFamily: SANS };
  return (
    <div style={{ position: 'absolute', left: L.left, top: L.top, width: L.w, height: L.h }}>
      <ScatterChart width={L.w} height={L.h} margin={{ top: L.mt, right: L.mr, bottom: 0, left: 0 }}>
        <XAxis
          type="number" dataKey="x" domain={[xd0, xd1]} ticks={p.xTicks} interval={0} height={L.xh}
          tickFormatter={(v: number) => v.toFixed(p.xDigits)} axisLine={false} tickLine={{ stroke: '#777' }}
          tickSize={4} tickMargin={L.xtm} tick={tickStyle}
        >
          <Label content={() => (
            <text x={L.xT[0]} y={L.xT[1]} textAnchor="middle" dominantBaseline="central" fontSize={10.8} fontFamily={SANS} fill="#333">
              log2(Fold Change)
            </text>
          )} />
        </XAxis>
        <YAxis
          type="number" dataKey="y" domain={[yd0, yd1]} ticks={p.yTicks} interval={0} width={L.yw}
          axisLine={false} tickLine={{ stroke: '#777' }} tickSize={4} tickMargin={5.5} tick={tickStyle}
        >
          <Label content={() => (
            <text x={L.yT[0]} y={L.yT[1]} textAnchor="middle" dominantBaseline="central" fontSize={L.yT[2]} fontFamily={SANS} fill="#333"
              transform={`rotate(-90 ${L.yT[0]} ${L.yT[1]})`}>
              −log10(P adjusted)
            </text>
          )} />
        </YAxis>
        <ReferenceArea x1={xd0} x2={xd1} y1={yd0} y2={yd1} fill="none" fillOpacity={0} stroke="#999" strokeWidth={1} ifOverflow="visible" />
        <ReferenceLine x={0} stroke="#a8a8a8" strokeDasharray="6 4" strokeWidth={1} />
        <ReferenceLine y={1.301} stroke="#a8a8a8" strokeDasharray="6 4" strokeWidth={1} />
        <Scatter name="NS" data={nsData} shape={dot(colors.NS)} isAnimationActive={false} legendType="none" />
        {p.arrows.map((a: number[], i: number) => (
          <ReferenceLine key={`ar${i}`} segment={[{ x: a[0] * u, y: a[1] }, { x: a[2] * u, y: a[3] }]} shape={ArrowShape} ifOverflow="visible" />
        ))}
        {groups.map((g: any) => (
          <Scatter key={g.c} name={g.name} data={g.data} shape={dot(colors[g.c])} isAnimationActive={false} legendType="none" />
        ))}
        <Scatter name="labels" data={labelData} shape={labelShape} isAnimationActive={false} legendType="none" />
        <ReferenceLine
          segment={[{ x: p.titleArrow[0] * u, y: p.titleArrow[2] }, { x: p.titleArrow[1] * u, y: p.titleArrow[2] }]}
          shape={ArrowShape} ifOverflow="visible"
          label={{ value: p.title, position: 'top', offset: 3.5, fontSize: 9.5, fill: '#222', fontFamily: SANS }}
        />
        <Legend
          content={legendContent} verticalAlign="middle" align="center" layout="horizontal"
          wrapperStyle={{ left: lx - 3, top: ly - 10, width: 175, height: 200 }}
        />
      </ScatterChart>
    </div>
  );
}

export default function App() {
  return (
    <div style={{ position: 'absolute', left: 0, top: 0, width: 800, height: 1084, background: '#fff', overflow: 'hidden' }}>
      {PANELS.map((p) => (
        <VolcanoPanel key={p.key} p={p} />
      ))}
      {PANELS.map((p) => (
        <div key={`l${p.key}`} style={{ position: 'absolute', left: p.L.letterPos[0], top: p.L.letterPos[1], fontFamily: SERIF, fontSize: 16, lineHeight: '16px', color: '#111' }}>
          {p.letter}
        </div>
      ))}
    </div>
  );
}
